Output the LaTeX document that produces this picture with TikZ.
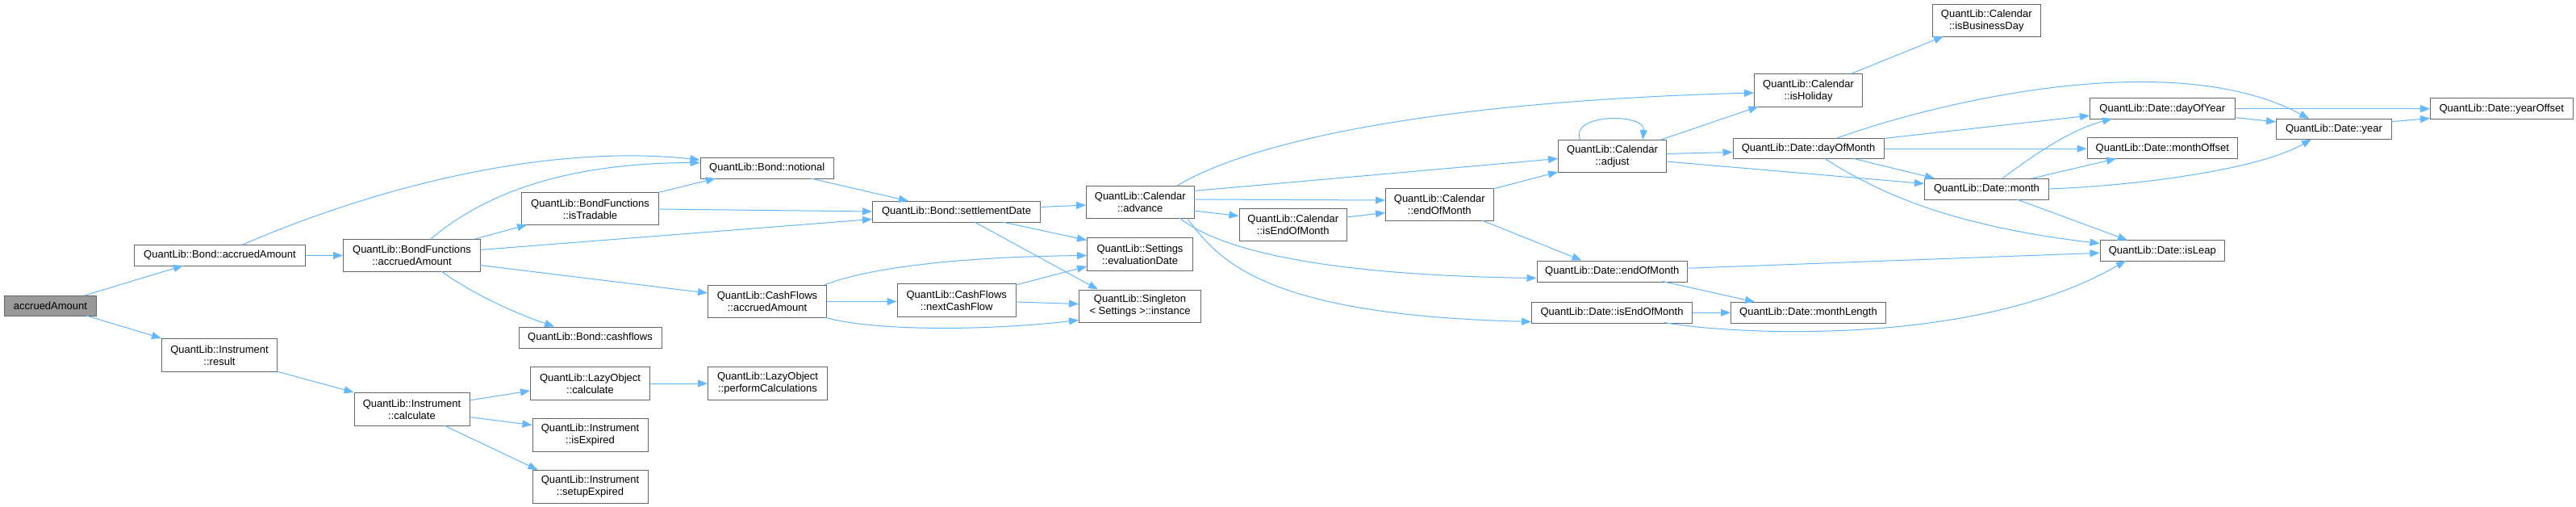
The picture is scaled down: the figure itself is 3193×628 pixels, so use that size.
\documentclass[tikz,border=0pt]{standalone}
\usepackage{fontspec}
\setmainfont{Liberation Sans}
\usetikzlibrary{arrows.meta,calc}
\definecolor{edgeblue}{HTML}{63B8FF}
\definecolor{boxgray}{HTML}{666666}
\definecolor{rootgray}{HTML}{999999}
\begin{document}
\begin{tikzpicture}[x=1pt,y=-1pt,
  fn/.style={draw=boxgray, line width=1pt, fill=white, inner sep=0pt, anchor=north west,
             align=center, font=\fontsize{13}{15}\selectfont},
  edgeline/.style={draw=edgeblue, line width=1pt, -{Triangle[length=12pt,width=9pt]}}]
\fill[white] (0,0) rectangle (3193,628);
\useasboundingbox (0,0) rectangle (3193,628);

% nodes
\node[fn,fill=rootgray,minimum width=114pt,minimum height=25pt] (acc) at (5,366) {accruedAmount};
\node[fn,minimum width=212pt,minimum height=26pt] (bondAcc) at (166,303) {QuantLib::Bond::accruedAmount};
\node[fn,minimum width=143pt,minimum height=41pt] (res) at (200,419) {QuantLib::Instrument\\::result};
\node[fn,minimum width=170pt,minimum height=40pt] (bfAcc) at (425,296) {QuantLib::BondFunctions\\::accruedAmount};
\node[fn,minimum width=170pt,minimum height=40pt] (bfTrad) at (646,238.5) {QuantLib::BondFunctions\\::isTradable};
\node[fn,minimum width=177pt,minimum height=26pt] (cashflows) at (642.5,404.5) {QuantLib::Bond::cashflows};
\node[fn,minimum width=143pt,minimum height=41pt] (instCalc) at (438.5,486) {QuantLib::Instrument\\::calculate};
\node[fn,minimum width=148pt,minimum height=41pt] (lazyCalc) at (657,454) {QuantLib::LazyObject\\::calculate};
\node[fn,minimum width=143pt,minimum height=41pt] (isExp) at (659.5,518) {QuantLib::Instrument\\::isExpired};
\node[fn,minimum width=143pt,minimum height=41pt] (setupExp) at (659.5,582) {QuantLib::Instrument\\::setupExpired};
\node[fn,minimum width=148pt,minimum height=41pt] (perf) at (877,454) {QuantLib::LazyObject\\::performCalculations};
\node[fn,minimum width=165.5pt,minimum height=26pt] (notional) at (867.5,195) {QuantLib::Bond::notional};
\node[fn,minimum width=147pt,minimum height=40pt] (cfAcc) at (877,353) {QuantLib::CashFlows\\::accruedAmount};
\node[fn,minimum width=208pt,minimum height=26pt] (settle) at (1081,249) {QuantLib::Bond::settlementDate};
\node[fn,minimum width=147.5pt,minimum height=41pt] (nextCF) at (1111.5,351) {QuantLib::CashFlows\\::nextCashFlow};
\node[fn,minimum width=133.5pt,minimum height=40pt] (advance) at (1346,230) {QuantLib::Calendar\\::advance};
\node[fn,minimum width=131pt,minimum height=40pt] (evalDate) at (1347,294.5) {QuantLib::Settings\\::evaluationDate};
\node[fn,minimum width=151pt,minimum height=40pt] (instance) at (1337,358.5) {QuantLib::Singleton\\< Settings >::instance};
\node[fn,minimum width=133.5pt,minimum height=40.5pt] (calIsEOM) at (1535.5,258) {QuantLib::Calendar\\::isEndOfMonth};
\node[fn,minimum width=133.5pt,minimum height=40pt] (calEOM) at (1717,233) {QuantLib::Calendar\\::endOfMonth};
\node[fn,minimum width=134pt,minimum height=40pt] (adjust) at (1931,173) {QuantLib::Calendar\\::adjust};
\node[fn,minimum width=186.5pt,minimum height=26pt] (dEOM) at (1904.5,322.5) {QuantLib::Date::endOfMonth};
\node[fn,minimum width=199pt,minimum height=25.5pt] (dIsEOM) at (1898,374) {QuantLib::Date::isEndOfMonth};
\node[fn,minimum width=134pt,minimum height=40.5pt] (isHoliday) at (2174,91.5) {QuantLib::Calendar\\::isHoliday};
\node[fn,minimum width=187pt,minimum height=25.5pt] (dayOfMonth) at (2147.5,171) {QuantLib::Date::dayOfMonth};
\node[fn,minimum width=192pt,minimum height=25.5pt] (monthLength) at (2145,374) {QuantLib::Date::monthLength};
\node[fn,minimum width=133.5pt,minimum height=40pt] (isBusinessDay) at (2395,5) {QuantLib::Calendar\\::isBusinessDay};
\node[fn,minimum width=154pt,minimum height=26pt] (month) at (2385,221) {QuantLib::Date::month};
\node[fn,minimum width=179.5pt,minimum height=25.5pt] (dayOfYear) at (2590,121.5) {QuantLib::Date::dayOfYear};
\node[fn,minimum width=186.5pt,minimum height=26pt] (monthOffset) at (2586.5,170.5) {QuantLib::Date::monthOffset};
\node[fn,minimum width=154.5pt,minimum height=25.5pt] (isLeap) at (2602.5,297.5) {QuantLib::Date::isLeap};
\node[fn,minimum width=143pt,minimum height=25.5pt] (year) at (2821,147) {QuantLib::Date::year};
\node[fn,minimum width=176.5pt,minimum height=25.5pt] (yearOffset) at (3012,121.5) {QuantLib::Date::yearOffset};

% edges
\draw[edgeline] ($(acc.north west)+(100,0)$) -- ($(bondAcc.north west)+(61,26)$);
\draw[edgeline] ($(acc.north west)+(102,25)$) -- (res.north west);
\draw[edgeline] (bondAcc.east) -- (bfAcc.west);
\draw[edgeline] ($(bondAcc.north west)+(135,0)$) .. controls (470,230) and (680,178) .. ($(notional.north west)+(0,3)$);
\draw[edgeline] ($(bfAcc.north west)+(109,0)$) .. controls (600,240) and (700,202) .. ($(notional.north west)+(0,6.5)$);
\draw[edgeline] ($(bfAcc.north west)+(164,0)$) -- ($(bfTrad.north west)+(7,40)$);
\draw[edgeline] ($(bfAcc.north west)+(170,13.5)$) -- ($(settle.north west)+(0,22.5)$);
\draw[edgeline] ($(bfAcc.north west)+(170,32.5)$) -- ($(cfAcc.north west)+(0,10)$);
\draw[edgeline] ($(bfAcc.north west)+(122,40)$) .. controls (580,360) and (630,385) .. ($(cashflows.north west)+(44.5,0)$);
\draw[edgeline] ($(bfTrad.north west)+(170,0)$) -- ($(notional.north west)+(19.5,26)$);
\draw[edgeline] ($(bfTrad.north west)+(170,20.5)$) -- ($(settle.north west)+(0,13)$);
\draw[edgeline] ($(notional.north west)+(137.5,26)$) -- ($(settle.north west)+(45,0)$);
\draw[edgeline] ($(settle.north west)+(208,7.5)$) -- ($(advance.north west)+(0,24)$);
\draw[edgeline] ($(settle.north west)+(161.5,26)$) -- ($(evalDate.north west)+(0,3)$);
\draw[edgeline] ($(settle.north west)+(127,26)$) -- ($(instance.north west)+(24,0)$);
\draw[edgeline] ($(cfAcc.north west)+(145,0)$) .. controls (1080,330) and (1200,318) .. ($(evalDate.north west)+(0,22)$);
\draw[edgeline] (cfAcc.east) -- (cfAcc.east -| nextCF.west);
\draw[edgeline] ($(cfAcc.north west)+(145.5,40)$) .. controls (1080,410) and (1220,410) .. ($(instance.north west)+(0,38)$);
\draw[edgeline] ($(nextCF.north west)+(147.5,2)$) -- ($(evalDate.north west)+(0,35.5)$);
\draw[edgeline] ($(nextCF.north west)+(147.5,23)$) -- ($(instance.north west)+(0,18)$);
\draw[edgeline] ($(res.north west)+(143,41)$) -- (instCalc.north west);
\draw[edgeline] ($(instCalc.north west)+(143,10)$) -- ($(lazyCalc.north west)+(0,30)$);
\draw[edgeline] ($(instCalc.north west)+(143,30.5)$) -- ($(isExp.north west)+(0,8.5)$);
\draw[edgeline] ($(instCalc.north west)+(112,41)$) -- ($(setupExp.north west)+(7,0)$);
\draw[edgeline] (lazyCalc.east) -- (perf.west);
\draw[edgeline] ($(advance.north west)+(113,0)$) .. controls (1560,170) and (1800,125) .. ($(isHoliday.north west)+(0,23.5)$);
\draw[edgeline] ($(advance.north west)+(133.5,6.5)$) -- ($(adjust.north west)+(0,23.5)$);
\draw[edgeline] ($(advance.north west)+(133.5,17)$) -- ($(calEOM.north west)+(0,15)$);
\draw[edgeline] ($(advance.north west)+(133.5,31)$) -- ($(calIsEOM.north west)+(0,9.5)$);
\draw[edgeline] ($(advance.north west)+(116,40)$) .. controls (1500,300) and (1600,340) .. ($(dEOM.north west)+(0,22)$);
\draw[edgeline] ($(advance.north west)+(125,40)$) .. controls (1510,320) and (1560,390) .. ($(dIsEOM.north west)+(0,24.5)$);
\draw[edgeline] ($(calIsEOM.north west)+(133.5,11)$) -- ($(calEOM.north west)+(0,30.5)$);
\draw[edgeline] ($(calEOM.north west)+(133.5,1)$) -- ($(adjust.north west)+(0,40)$);
\draw[edgeline] ($(calEOM.north west)+(120,40)$) -- ($(dEOM.north west)+(56,0)$);
\draw[edgeline] ($(adjust.north west)+(27.5,0)$) .. controls (1945,140) and (2040,140) .. ($(adjust.north west)+(105,0)$);
\draw[edgeline] ($(adjust.north west)+(128,0)$) -- ($(isHoliday.north west)+(5.5,40.5)$);
\draw[edgeline] ($(adjust.north west)+(134,17.5)$) -- ($(dayOfMonth.north west)+(0,17.5)$);
\draw[edgeline] ($(adjust.north west)+(134,27)$) -- ($(month.north west)+(0,6.5)$);
\draw[edgeline] ($(isHoliday.north west)+(120,0)$) -- ($(isBusinessDay.north west)+(14,40)$);
\draw[edgeline] ($(dayOfMonth.north west)+(129.5,0)$) .. controls (2420,120) and (2700,60) .. ($(year.north west)+(41,0)$);
\draw[edgeline] ($(dayOfMonth.north west)+(187,0.5)$) -- ($(dayOfYear.north west)+(0,21.7)$);
\draw[edgeline] (dayOfMonth.east) -- (dayOfMonth.east -| monthOffset.west);
\draw[edgeline] ($(dayOfMonth.north west)+(150.5,25.5)$) -- ($(month.north west)+(13,0)$);
\draw[edgeline] ($(dayOfMonth.north west)+(114.5,25.5)$) .. controls (2330,240) and (2420,280) .. ($(isLeap.north west)+(0,4)$);
\draw[edgeline] ($(month.north west)+(97,0)$) .. controls (2530,185) and (2570,160) .. ($(dayOfYear.north west)+(28,25.5)$);
\draw[edgeline] ($(month.north west)+(133.5,0)$) -- ($(monthOffset.north west)+(36.5,26)$);
\draw[edgeline] ($(month.north west)+(154,13)$) .. controls (2650,230) and (2800,210) .. ($(year.north west)+(44,25.5)$);
\draw[edgeline] ($(month.north west)+(115,26)$) -- ($(isLeap.north west)+(34.5,0)$);
\draw[edgeline] (dayOfYear.east) -- (yearOffset.west);
\draw[edgeline] ($(dayOfYear.north west)+(179.5,24)$) -- ($(year.north west)+(0,4)$);
\draw[edgeline] ($(year.north west)+(143,3.7)$) -- ($(yearOffset.north west)+(0,25)$);
\draw[edgeline] ($(dEOM.north west)+(186.5,9.8)$) -- ($(isLeap.north west)+(0,15.8)$);
\draw[edgeline] ($(dEOM.north west)+(156,26)$) -- ($(monthLength.north west)+(30,0)$);
\draw[edgeline] (dIsEOM.east) -- (monthLength.west);
\draw[edgeline] ($(dIsEOM.north west)+(165,25.5)$) .. controls (2150,415) and (2450,430) .. ($(isLeap.north west)+(32.5,25.5)$);
\end{tikzpicture}
\end{document}
